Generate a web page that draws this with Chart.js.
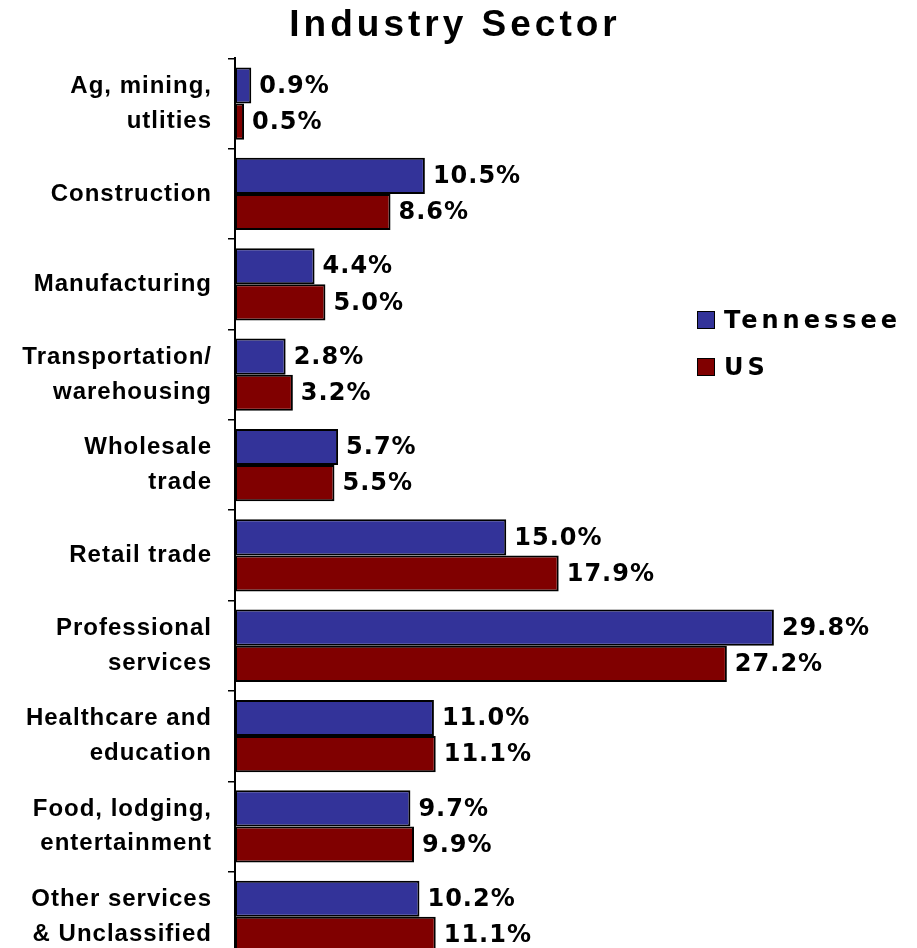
<!DOCTYPE html>
<html>
<head>
<meta charset="utf-8">
<script src="https://cdn.jsdelivr.net/npm/chart.js@4"></script>
<style>
  html, body { margin: 0; padding: 0; background: #fff; overflow: hidden; }
  #wrap { position: relative; width: 917px; height: 962px; }
  #c { display: block; }
  #legend { position: absolute; left: 697px; top: 306px; font-family: "DejaVu Sans", Verdana, sans-serif; font-weight: bold; font-size: 24px; letter-spacing: 4px; color: #000; }
  .row { display: flex; align-items: center; height: 28px; margin-bottom: 19px; }
  .sw { width: 16px; height: 16px; border: 1.5px solid #000; margin-right: 9px; flex: none; }
</style>
</head>
<body>
<div id="wrap">
  <canvas id="c" width="917" height="962"></canvas>
  <div id="legend"></div>
</div>
<script>
const categories = [
  ['Ag, mining,', 'utlities'],
  'Construction',
  'Manufacturing',
  ['Transportation/', 'warehousing'],
  ['Wholesale', 'trade'],
  'Retail trade',
  ['Professional', 'services'],
  ['Healthcare and', 'education'],
  ['Food, lodging,', 'entertainment'],
  ['Other services', '& Unclassified']
];
const seriesNames = ['Tennessee', 'US'];
const tennessee = [0.9, 10.5, 4.4, 2.8, 5.7, 15.0, 29.8, 11.0, 9.7, 10.2];
const us = [0.5, 8.6, 5.0, 3.2, 5.5, 17.9, 27.2, 11.1, 9.9, 11.1];
const colors = ['#333399', '#800000'];
const titleText = 'Industry Sector';

const labelPlugin = {
  id: 'valueLabels',
  beforeDraw(chart) {
    const t = chart.titleBlock;
    if (t && !t._ls) {
      const o = t.draw;
      t.draw = function (a) { const c = this.ctx; c.save(); c.translate(12, 0); c.letterSpacing = '4px'; o.call(this, a); c.restore(); };
      t._ls = true;
    }
    const y = chart.scales.y;
    if (y && !y._ls) {
      const o = y.drawLabels;
      y.drawLabels = function (a) { const c = this.ctx; c.save(); c.letterSpacing = '1px'; o.call(this, a); c.restore(); };
      y._ls = true;
    }
  },
  afterDatasetsDraw(chart) {
    const ctx = chart.ctx;
    ctx.save();
    ctx.font = 'bold 24px "DejaVu Sans", Verdana, sans-serif';
    ctx.letterSpacing = '1px';
    ctx.fillStyle = '#000';
    ctx.textAlign = 'left';
    ctx.textBaseline = 'middle';
    chart.data.datasets.forEach((ds, di) => {
      const meta = chart.getDatasetMeta(di);
      meta.data.forEach((el, i) => {
        ctx.fillText(ds.data[i].toFixed(1) + '%', el.x + 8, el.y + 1);
      });
    });
    ctx.restore();
  }
};

const chart = new Chart(document.getElementById('c'), {
  type: 'bar',
  data: {
    labels: categories,
    datasets: [
      { label: seriesNames[0], data: tennessee, backgroundColor: colors[0] },
      { label: seriesNames[1], data: us, backgroundColor: colors[1] }
    ]
  },
  options: {
    indexAxis: 'y',
    responsive: false,
    animation: false,
    datasets: {
      bar: { categoryPercentage: 0.8, barPercentage: 1.0, borderColor: '#000', borderWidth: 2, borderSkipped: false }
    },
    layout: { padding: { left: 0, right: 31, top: 0, bottom: 0 } },
    plugins: {
      legend: { display: false },
      tooltip: { enabled: false },
      title: {
        display: true,
        text: titleText,
        color: '#000',
        font: { family: '"Liberation Sans", Arial, sans-serif', size: 37, weight: 'bold', lineHeight: 1.2 },
        padding: { top: 4, bottom: 10 }
      }
    },
    scales: {
      x: { display: false, min: 0, max: 36 },
      y: {
        position: 'left',
        afterFit(s) { s.width = 235; s.paddingTop = 0; s.paddingBottom = 0; },
        grid: { offset: true, drawOnChartArea: false, drawTicks: true, tickLength: 7, color: '#000', lineWidth: 1.5 },
        border: { display: true, color: '#000', width: 2 },
        ticks: {
          color: '#000',
          padding: 16,
          font: { family: '"Liberation Sans", Arial, sans-serif', size: 24, weight: 'bold', lineHeight: 1.45 }
        }
      }
    }
  },
  plugins: [labelPlugin]
});

const legend = document.getElementById('legend');
seriesNames.forEach((n, i) => {
  const r = document.createElement('div');
  r.className = 'row';
  const s = document.createElement('span');
  s.className = 'sw';
  s.style.background = colors[i];
  const t = document.createElement('span');
  t.textContent = n;
  r.appendChild(s); r.appendChild(t);
  legend.appendChild(r);
});
</script>
</body>
</html>
